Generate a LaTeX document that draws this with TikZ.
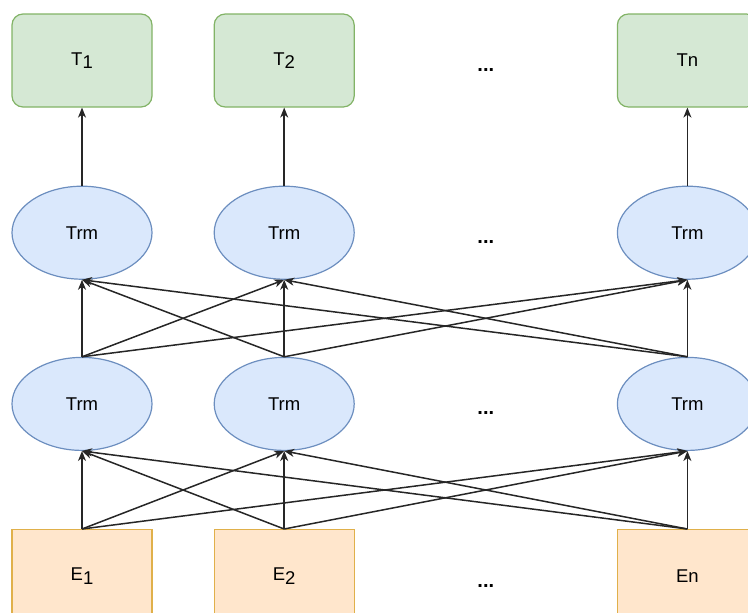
\documentclass[tikz,border=0pt]{standalone}
\usepackage{fontspec}
\setmainfont{Liberation Sans}
\usepackage{xcolor}
\usetikzlibrary{positioning,arrows.meta,calc,shapes.geometric}

\definecolor{outfill}{HTML}{D5E8D4}
\definecolor{outline}{HTML}{82B366}
\definecolor{trmfill}{HTML}{DAE8FC}
\definecolor{trmline}{HTML}{6C8EBF}
\definecolor{embfill}{HTML}{FFE6CC}
\definecolor{embline}{HTML}{E0B04A}

\begin{document}
\begin{tikzpicture}[
        x=1pt, y=1pt,
        outbox/.style={
            draw=outline,
            fill=outfill,
            rounded corners=11pt,
            line width=1.2pt,
            minimum width=140pt,
            minimum height=93pt,
            inner sep=0pt,
            font=\fontsize{18.5}{22}\selectfont
        },
        trm/.style={
            ellipse,
            draw=trmline,
            fill=trmfill,
            line width=1.2pt,
            minimum width=140pt,
            minimum height=93pt,
            inner sep=0pt,
            font=\fontsize{18.5}{22}\selectfont
        },
        embbox/.style={
            draw=embline,
            fill=embfill,
            line width=1.2pt,
            minimum width=140pt,
            minimum height=93pt,
            inner sep=0pt,
            font=\fontsize{18.5}{22}\selectfont
        },
        dots/.style={font=\fontsize{20}{22}\selectfont\bfseries, yshift=-9.5pt},
        link/.style={-{Stealth[length=10pt,width=8pt,inset=3pt]}, line width=1.5pt, black!85}
    ]
        \useasboundingbox (0,0) rectangle (748,-613);

        % outputs
        \node[outbox] (t1) at (82,-60.5) {T\raisebox{-0.35ex}{1}};
        \node[outbox, right=61pt of t1] (t2) {T\raisebox{-0.35ex}{2}};
        \node[outbox, right=262pt of t2] (tn) {Tn};

        % transformer layers
        \node[trm, below=78pt of t1] (u1) {Trm};
        \node[trm, below=78pt of t2] (u2) {Trm};
        \node[trm, below=78pt of tn] (un) {Trm};

        \node[trm, below=77pt of u1] (l1) {Trm};
        \node[trm, below=77pt of u2] (l2) {Trm};
        \node[trm, below=77pt of un] (ln) {Trm};

        % embeddings
        \node[embbox, below=78pt of l1] (e1) {E\raisebox{-0.35ex}{1}};
        \node[embbox, below=78pt of l2] (e2) {E\raisebox{-0.35ex}{2}};
        \node[embbox, below=78pt of ln] (en) {En};

        \node[dots] (dt) at ($(t2)!0.5!(tn)$) {...};
        \node[dots] (du) at ($(u2)!0.5!(un)$) {...};
        \node[dots] (dl) at ($(l2)!0.5!(ln)$) {...};
        \node[dots] (de) at ($(e2)!0.5!(en)$) {...};

        \draw[link] (u1.north) -- (t1.south);
        \draw[link] (u2.north) -- (t2.south);
        \draw[link] (un.north) -- (tn.south);

        \draw[link] (l1.north) -- (u1.south);
        \draw[link] (l1.north) -- (u2.south);
        \draw[link] (l1.north) -- (un.south);
        \draw[link] (l2.north) -- (u1.south);
        \draw[link] (l2.north) -- (u2.south);
        \draw[link] (l2.north) -- (un.south);
        \draw[link] (ln.north) -- (u1.south);
        \draw[link] (ln.north) -- (u2.south);
        \draw[link] (ln.north) -- (un.south);

        \draw[link] (e1.north) -- (l1.south);
        \draw[link] (e1.north) -- (l2.south);
        \draw[link] (e1.north) -- (ln.south);
        \draw[link] (e2.north) -- (l1.south);
        \draw[link] (e2.north) -- (l2.south);
        \draw[link] (e2.north) -- (ln.south);
        \draw[link] (en.north) -- (l1.south);
        \draw[link] (en.north) -- (l2.south);
        \draw[link] (en.north) -- (ln.south);
    \end{tikzpicture}
\end{document}
